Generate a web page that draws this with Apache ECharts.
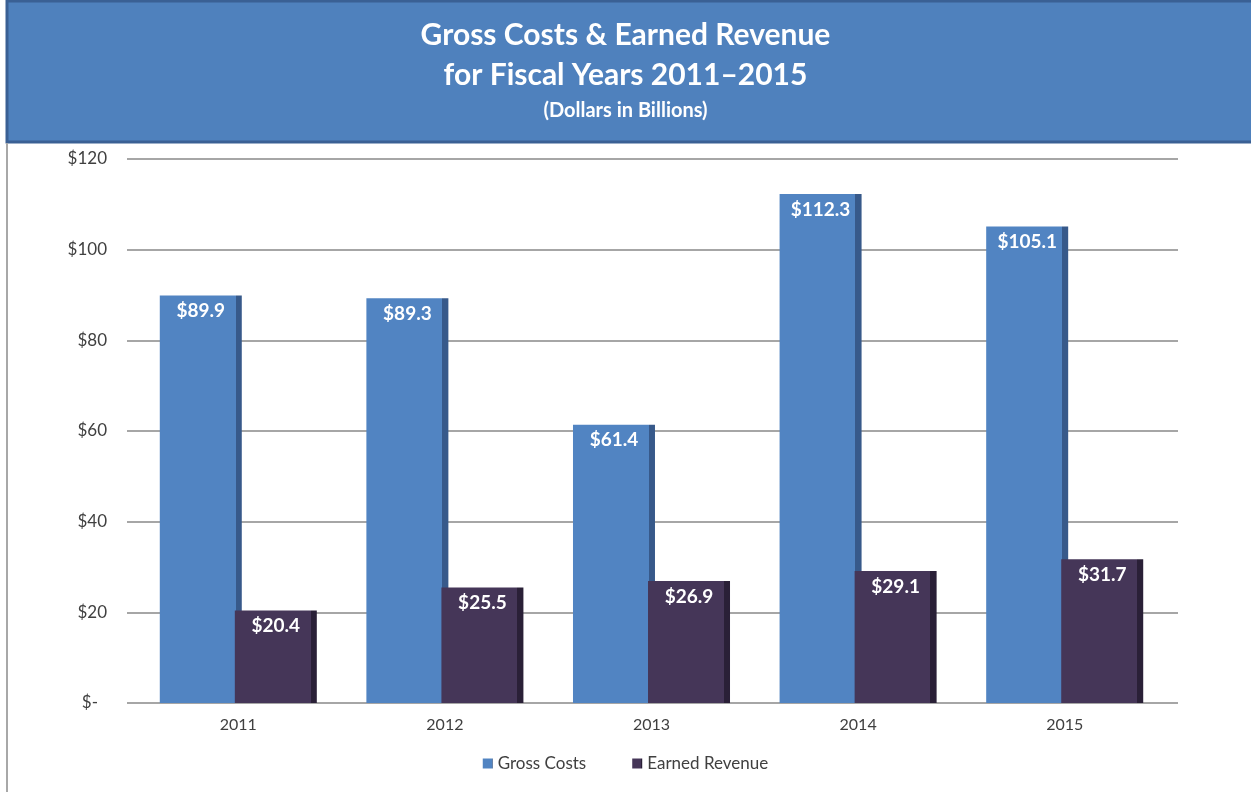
<!DOCTYPE html>
<html>
<head>
<meta charset="utf-8">
<title>Gross Costs &amp; Earned Revenue</title>
<script src="https://cdn.jsdelivr.net/npm/echarts@6/dist/echarts.min.js"></script>
<style>
  html, body { margin: 0; padding: 0; background: #ffffff; }
  #chart { width: 1251px; height: 792px; }
</style>
</head>
<body>
<div id="chart"></div>
<script>
// Fiscal years and values (dollars in billions)
const years = ['2011', '2012', '2013', '2014', '2015'];
const grossCosts = [89.9, 89.3, 61.4, 112.3, 105.1];
const earnedRevenue = [20.4, 25.5, 26.9, 29.1, 31.7];
const seriesNames = ['Gross Costs', 'Earned Revenue'];
const yTicks = [0, 20, 40, 60, 80, 100, 120];
const yTickLabels = ['$-', '$20', '$40', '$60', '$80', '$100', '$120'];

const FONT = 'Lato, "Open Sans", "DejaVu Sans", sans-serif';
const TEXT = '#404040';

// Front face with a thin darker strip on the right for the depth edge
function faceWithEdge(front, edge) {
  return new echarts.graphic.LinearGradient(0, 0, 1, 0, [
    { offset: 0, color: front },
    { offset: 0.925, color: front },
    { offset: 0.925, color: edge },
    { offset: 1, color: edge }
  ]);
}

const valueLabel = {
  show: true,
  position: 'insideTop',
  distance: 6,
  color: '#ffffff',
  fontFamily: FONT,
  fontWeight: 'bold',
  fontSize: 19,
  formatter: p => '$' + p.value.toFixed(1)
};

const chart = echarts.init(document.getElementById('chart'), null, { renderer: 'canvas' });

chart.setOption({
  animation: false,
  backgroundColor: '#ffffff',
  graphic: [
    {
      type: 'rect',
      z: 0,
      shape: { x: 7, y: 1, width: 1260, height: 141 },
      style: { fill: '#4F81BD', stroke: '#3A6094', lineWidth: 3 }
    },
    {
      type: 'line',
      z: 0,
      shape: { x1: 7, y1: 143, x2: 7, y2: 792 },
      style: { stroke: '#A8A8A8', lineWidth: 2 }
    }
  ],
  title: [
    {
      text: 'Gross Costs & Earned Revenue',
      left: 'center', top: 15,
      textStyle: { color: '#ffffff', fontFamily: FONT, fontWeight: 'bold', fontSize: 30 }
    },
    {
      text: 'for Fiscal Years 2011\u20132015',
      left: 'center', top: 55,
      textStyle: { color: '#ffffff', fontFamily: FONT, fontWeight: 'bold', fontSize: 30 }
    },
    {
      text: '(Dollars in Billions)',
      left: 'center', top: 96,
      textStyle: { color: '#ffffff', fontFamily: FONT, fontWeight: 'bold', fontSize: 20 }
    }
  ],
  legend: {
    data: seriesNames,
    bottom: 15,
    left: 'center',
    itemWidth: 10,
    itemHeight: 10,
    itemGap: 46,
    icon: 'rect',
    textStyle: { color: TEXT, fontFamily: FONT, fontSize: 17 }
  },
  grid: [
    // gridline frame
    { left: 127, right: 73, top: 159, bottom: 89 },
    // bars
    { left: 135, right: 83, top: 159, bottom: 89 }
  ],
  xAxis: [
    { type: 'category', gridIndex: 0, data: years, show: false },
    {
      type: 'category', gridIndex: 1, data: years,
      axisLine: { show: false },
      axisTick: { show: false },
      axisLabel: { color: TEXT, fontFamily: FONT, fontSize: 16, margin: 14 }
    }
  ],
  yAxis: [
    {
      type: 'value', gridIndex: 0, min: 0, max: 120, interval: 20,
      axisLine: { show: false },
      axisTick: { show: false },
      splitLine: { lineStyle: { color: '#A6A6A6', width: 2 } },
      axisLabel: {
        color: TEXT, fontFamily: FONT, fontSize: 17, margin: 20,
        formatter: v => {
          const i = yTicks.indexOf(v);
          const s = i >= 0 ? yTickLabels[i] : '';
          return v === 0 ? '{z|' + s + '}' : s;
        },
        rich: { z: { color: TEXT, fontFamily: FONT, fontSize: 17, padding: [0, 9, 0, 0] } }
      }
    },
    {
      type: 'value', gridIndex: 1, min: 0, max: 120, interval: 20,
      show: false,
      splitLine: { show: false }
    }
  ],
  series: [
    {
      name: seriesNames[0],
      type: 'bar',
      xAxisIndex: 1, yAxisIndex: 1,
      data: grossCosts,
      barWidth: 82,
      barGap: '-8.5%',
      color: '#4F81BD',
      itemStyle: { color: faceWithEdge('#5184C2', '#37598A') },
      label: valueLabel
    },
    {
      name: seriesNames[1],
      type: 'bar',
      xAxisIndex: 1, yAxisIndex: 1,
      data: earnedRevenue,
      barWidth: 82,
      barGap: '-8.5%',
      color: '#403152',
      itemStyle: { color: faceWithEdge('#453658', '#2A2037') },
      label: valueLabel
    }
  ]
});
</script>
</body>
</html>
